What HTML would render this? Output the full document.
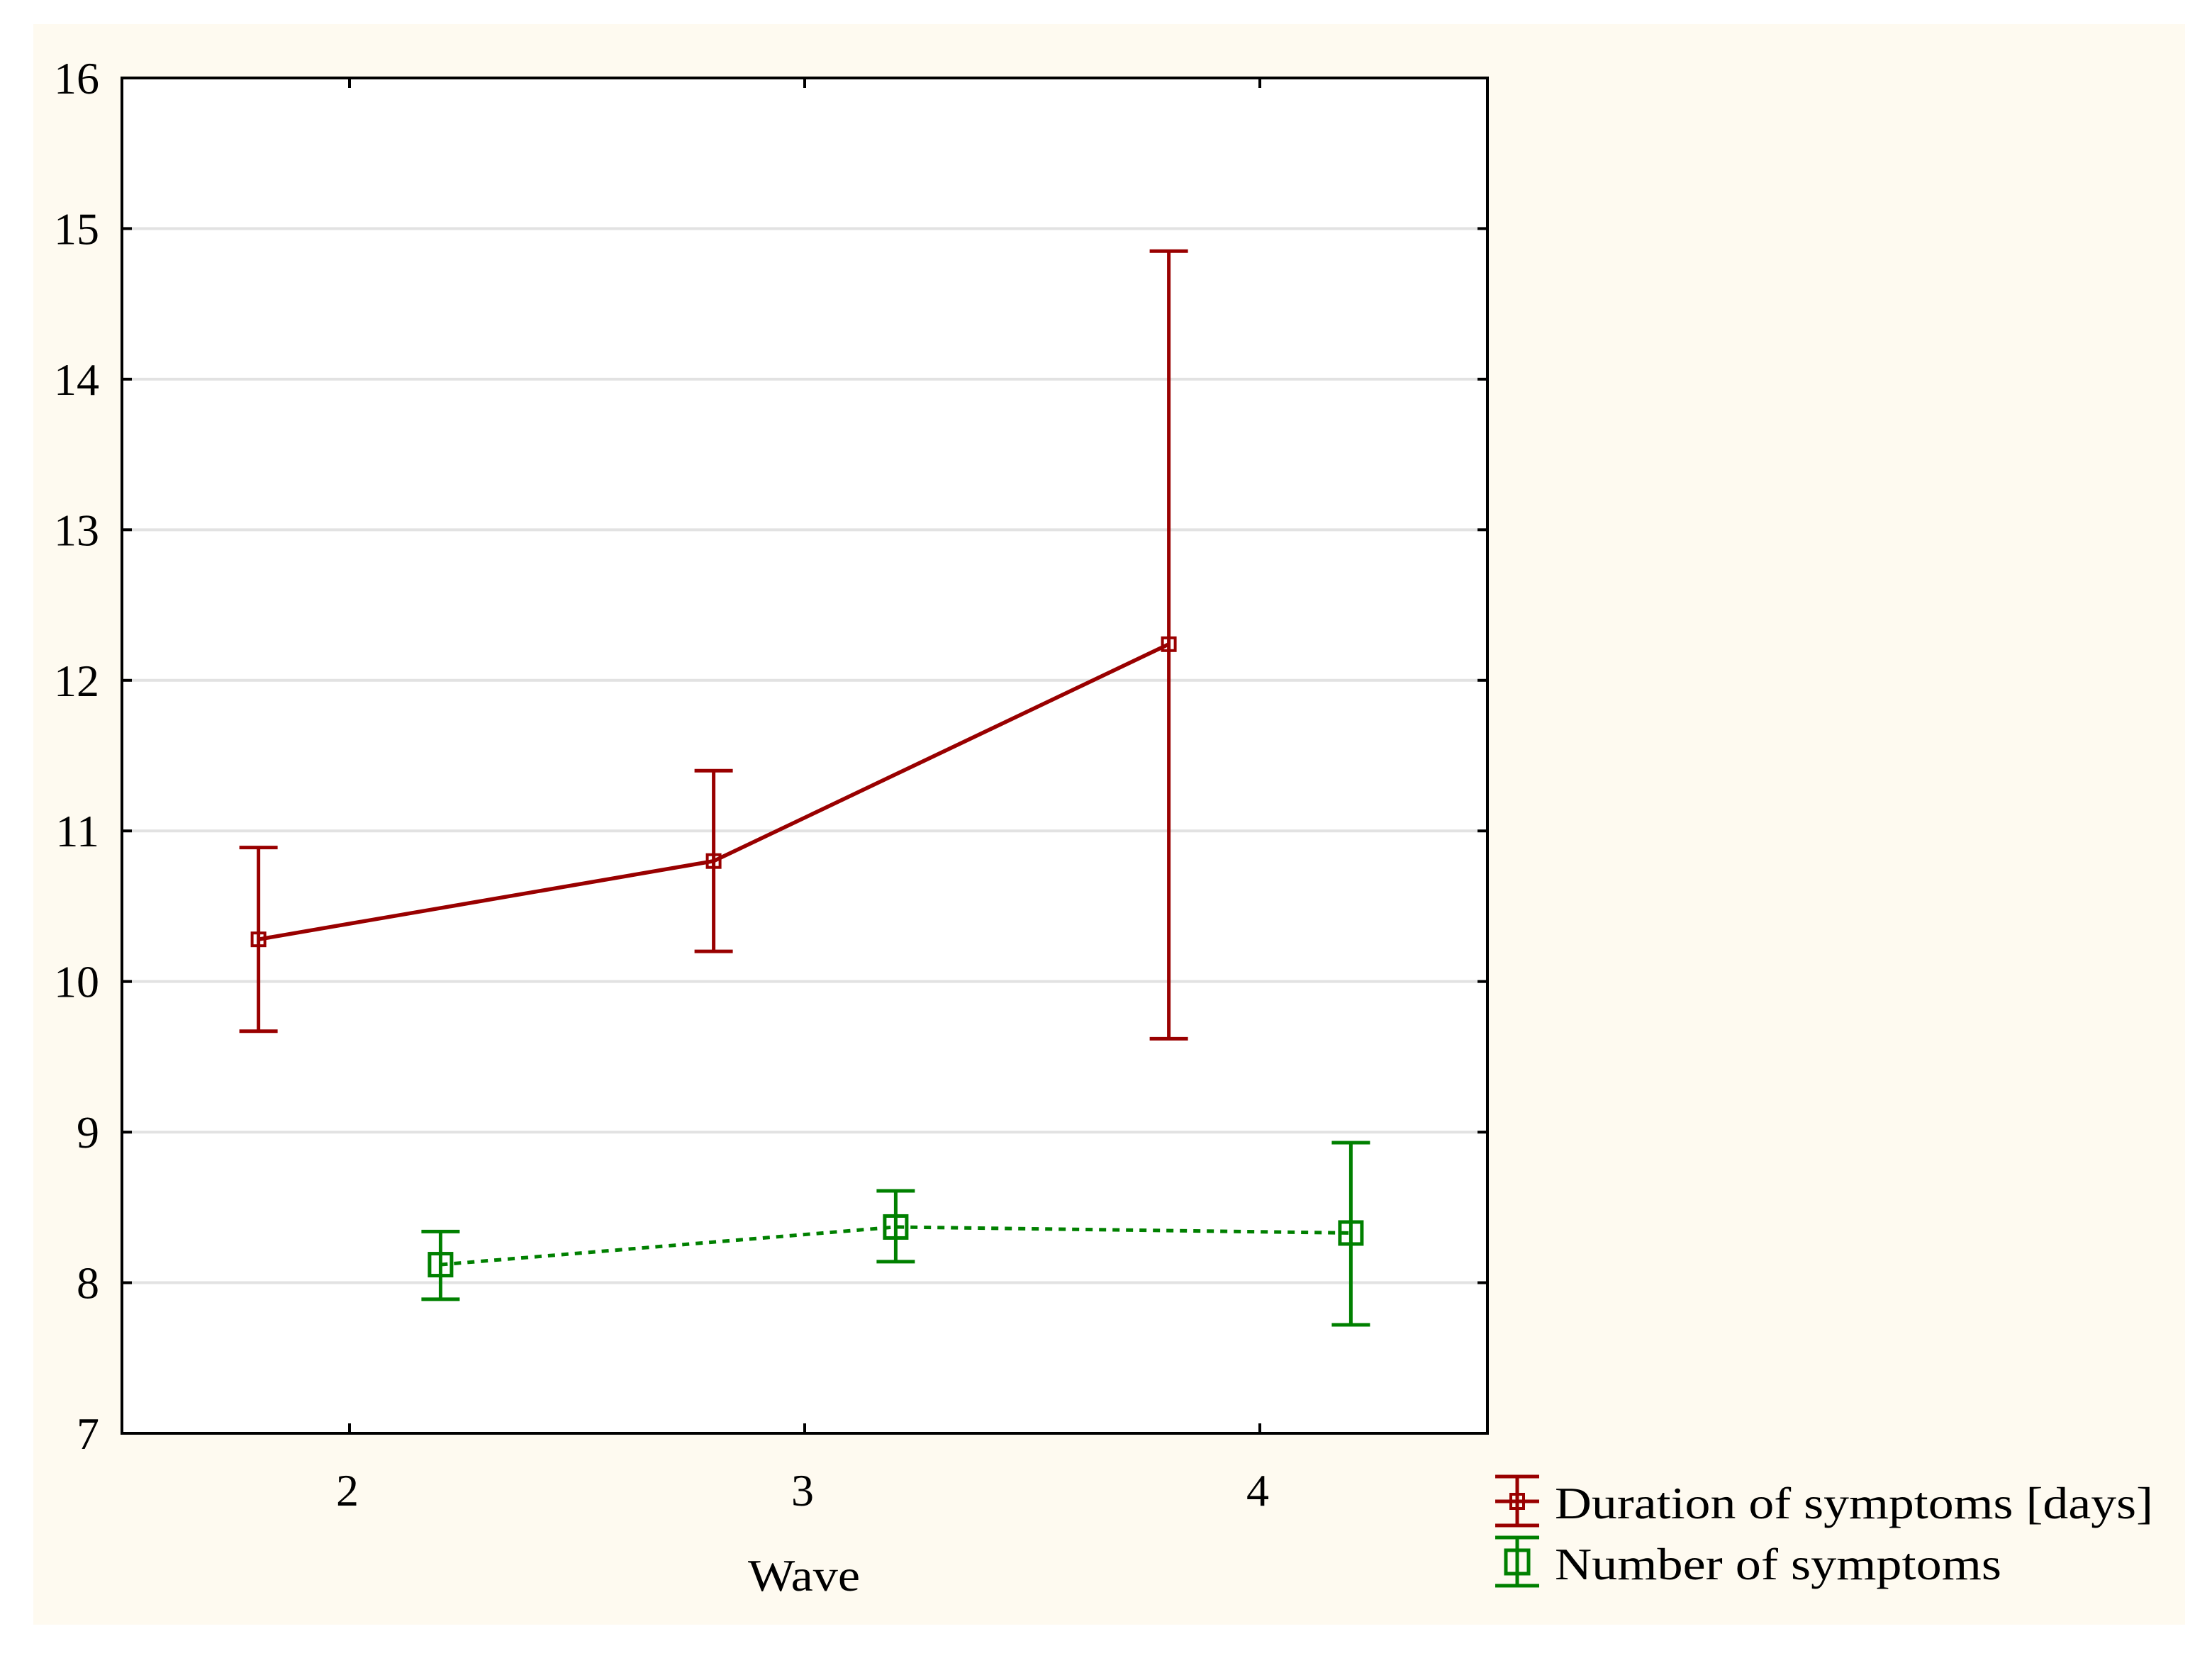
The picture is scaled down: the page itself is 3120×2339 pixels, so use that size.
<!DOCTYPE html>
<html><head><meta charset="utf-8"><style>
html,body{margin:0;padding:0;background:#fff;}
svg{display:block;font-family:"Liberation Serif",serif;}
</style></head><body>
<svg id="chart" width="3120" height="2339" viewBox="0 0 3120 2339" xmlns="http://www.w3.org/2000/svg">
<rect x="47" y="34" width="3035" height="2258" fill="#fefaf0"/>
<rect x="172" y="110" width="1926" height="1912" fill="#fff"/>
<g id="grid"></g>
<g id="series"></g>
<rect x="172" y="110" width="1926" height="1912" fill="none" stroke="#000" stroke-width="4"/>
<g id="axes"></g>
<text x="1134" y="2244" font-size="64" text-anchor="middle" textLength="158" lengthAdjust="spacingAndGlyphs">Wave</text>
<g>
 <g>
  <line x1="2140" y1="2083" x2="2140" y2="2152" stroke="#990000" stroke-width="5"/>
  <line x1="2109" y1="2083" x2="2171" y2="2083" stroke="#990000" stroke-width="5"/>
  <line x1="2109" y1="2118" x2="2171" y2="2118" stroke="#990000" stroke-width="5"/>
  <line x1="2109" y1="2152" x2="2171" y2="2152" stroke="#990000" stroke-width="5"/>
  <rect x="2131" y="2108" width="18" height="20" fill="none" stroke="#990000" stroke-width="4"/>
  <text x="2193" y="2142" font-size="64" textLength="844" lengthAdjust="spacingAndGlyphs">Duration of symptoms [days]</text>
 </g>
 <g>
  <line x1="2140" y1="2169" x2="2140" y2="2237" stroke="#008000" stroke-width="5"/>
  <line x1="2109" y1="2169" x2="2171" y2="2169" stroke="#008000" stroke-width="5"/>
  <line x1="2109" y1="2237" x2="2171" y2="2237" stroke="#008000" stroke-width="5"/>
  <rect x="2124" y="2187" width="32" height="33" fill="none" stroke="#008000" stroke-width="5"/>
  <text x="2193" y="2228" font-size="64" textLength="630" lengthAdjust="spacingAndGlyphs">Number of symptoms</text>
 </g>
</g>
</svg>
<script>
const waves = [2, 3, 4];
const yTicks = [7, 8, 9, 10, 11, 12, 13, 14, 15, 16];
const durMean = [10.28, 10.80, 12.24];
const durLow = [9.67, 10.20, 9.62];
const durHigh = [10.89, 11.40, 14.85];
const numMean = [8.12, 8.37, 8.33];
const numLow = [7.89, 8.14, 7.72];
const numHigh = [8.34, 8.61, 8.93];

const NS = "http://www.w3.org/2000/svg";
const L = 172, R = 2098, T = 110, B = 2022;
const xMin = 1.5, xMax = 4.5, yMin = 7, yMax = 16;
function xs(v){ return L + (v - xMin) / (xMax - xMin) * (R - L); }
function ys(v){ return B - (v - yMin) / (yMax - yMin) * (B - T); }
function mk(tag, attrs, parent){
  const e = document.createElementNS(NS, tag);
  for (const k in attrs) e.setAttribute(k, attrs[k]);
  parent.appendChild(e);
  return e;
}
const grid = document.getElementById('grid');
const axes = document.getElementById('axes');
const series = document.getElementById('series');

yTicks.forEach(t => {
  const y = ys(t);
  if (t > yMin && t < yMax) {
    const g = mk('line', {x1: L, x2: R, y1: y, y2: y, stroke: '#e2e2e2', 'stroke-width': 4}, grid);
    
    
  }
  const tk = mk('line', {x1: L, x2: L + 14, y1: y, y2: y, stroke: '#000', 'stroke-width': 4}, axes);
  
  
  const tk2 = mk('line', {x1: R - 14, x2: R, y1: y, y2: y, stroke: '#000', 'stroke-width': 4}, axes);
  
  
  const lb = mk('text', {x: 140, y: y + 22, 'font-size': 64, 'text-anchor': 'end'}, axes);
  lb.textContent = t;
  
  
});
waves.forEach(w => {
  const x = xs(w);
  const tk = mk('line', {x1: x, x2: x, y1: B, y2: B - 14, stroke: '#000', 'stroke-width': 4}, axes);
  
  
  const tk2 = mk('line', {x1: x, x2: x, y1: T, y2: T + 14, stroke: '#000', 'stroke-width': 4}, axes);
  
  
  const lb = mk('text', {x: x - 3, y: 2124, 'font-size': 64, 'text-anchor': 'middle'}, axes);
  lb.textContent = w;
  
  
});

function drawSeries(name, mean, lo, hi, off, color, dash, box, bw){
  const pts = waves.map((w, i) => xs(w + off) + ',' + ys(mean[i])).join(' ');
  const pl = mk('polyline', {points: pts, fill: 'none', stroke: color, 'stroke-width': dash ? 5 : 5.5, 'stroke-dasharray': dash || 'none'}, series);
  
  
  waves.forEach((w, i) => {
    const x = xs(w + off);
    const g = mk('g', {}, series);
    
    
    mk('line', {x1: x, x2: x, y1: ys(hi[i]), y2: ys(lo[i]), stroke: color, 'stroke-width': 5}, g);
    mk('line', {x1: x - 27, x2: x + 27, y1: ys(hi[i]), y2: ys(hi[i]), stroke: color, 'stroke-width': 5}, g);
    mk('line', {x1: x - 27, x2: x + 27, y1: ys(lo[i]), y2: ys(lo[i]), stroke: color, 'stroke-width': 5}, g);
    const m = mk('rect', {x: x - box/2, y: ys(mean[i]) - box/2, width: box, height: box, fill: 'none', stroke: color, 'stroke-width': bw}, series);
    
    
  });
}
drawSeries('duration', durMean, durLow, durHigh, -0.2, '#990000', null, 18, 4);
drawSeries('number', numMean, numLow, numHigh, 0.2, '#008000', '10 9', 31, 5);
</script>
</body></html>
